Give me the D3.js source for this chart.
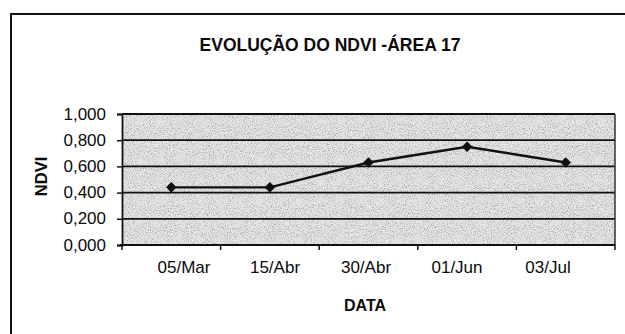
<!DOCTYPE html>
<html>
<head>
<meta charset="utf-8">
<script src="https://cdn.jsdelivr.net/npm/d3@7"></script>
<style>
  html, body { margin: 0; padding: 0; background: #fff; }
  svg { display: block; }
  text { font-family: "Liberation Sans", Arial, sans-serif; fill: #0a0a0a; }
</style>
</head>
<body>
<svg id="chart" width="625" height="334"></svg>
<script>
// NDVI readings per survey date
const dates = ["05/Mar", "15/Abr", "30/Abr", "01/Jun", "03/Jul"];
const ndvi = [0.44, 0.44, 0.63, 0.75, 0.63];
const yTicks = [0, 0.2, 0.4, 0.6, 0.8, 1.0];
const titleText = "EVOLUÇÃO DO NDVI -ÁREA 17";
const xTitle = "DATA";
const yTitle = "NDVI";

const svg = d3.select("#chart");
const W = 625, H = 334;
const plot = { left: 122, right: 615, top: 114, bottom: 245 };

// Chart frame (only top and left edges fall inside the view)
svg.append("path")
  .attr("d", `M11,${H + 5} V14 H${W + 5}`)
  .attr("fill", "none").attr("stroke", "#111").attr("stroke-width", 2);

// Title
svg.append("text")
  .attr("x", 330).attr("y", 51)
  .attr("text-anchor", "middle")
  .attr("font-size", 17.5).attr("font-weight", "bold")
  .text(titleText);

const x = d3.scaleBand().domain(dates).range([plot.left, plot.right]);
const y = d3.scaleLinear().domain([0, 1]).range([plot.bottom, plot.top]);
// Category labels sit slightly inward from the band centres
const xLabel = d3.scalePoint().domain(dates).range([plot.left + 62, plot.right - 67]);

// Stippled plot-area fill
const defs = svg.append("defs");
const f = defs.append("filter").attr("id", "stipple")
  .attr("x", 0).attr("y", 0).attr("width", "100%").attr("height", "100%");
f.append("feTurbulence").attr("type", "fractalNoise")
  .attr("baseFrequency", 0.95).attr("numOctaves", 2).attr("seed", 7);
f.append("feColorMatrix").attr("type", "matrix")
  .attr("values", "0 0 0 0 0.35  0 0 0 0 0.35  0 0 0 0 0.35  2.6 0 0 0 -1.2");

svg.append("rect")
  .attr("x", plot.left).attr("y", plot.top)
  .attr("width", plot.right - plot.left).attr("height", plot.bottom - plot.top)
  .attr("fill", "#e6e6e6");
svg.append("rect")
  .attr("x", plot.left).attr("y", plot.top)
  .attr("width", plot.right - plot.left).attr("height", plot.bottom - plot.top)
  .attr("fill", "#fff").attr("filter", "url(#stipple)");

// Horizontal gridlines
svg.append("g").selectAll("line")
  .data(yTicks.filter(d => d > 0))
  .join("line")
  .attr("x1", plot.left).attr("x2", plot.right)
  .attr("y1", d => y(d)).attr("y2", d => y(d))
  .attr("stroke", "#111").attr("stroke-width", 1.8);

// Right edge of plot area
svg.append("line")
  .attr("x1", plot.right).attr("x2", plot.right)
  .attr("y1", plot.top).attr("y2", plot.bottom)
  .attr("stroke", "#333").attr("stroke-width", 1.5);

// Y axis
const yAxis = d3.axisLeft(y).tickValues(yTicks).tickSize(5).tickPadding(11)
  .tickFormat(d => d3.format(".3f")(d).replace(".", ","));
const gy = svg.append("g").attr("transform", `translate(${plot.left},0)`).call(yAxis);
gy.select(".domain").attr("stroke", "#111").attr("stroke-width", 1.8);
gy.selectAll(".tick line").attr("stroke", "#111").attr("stroke-width", 1.5);
gy.selectAll(".tick text").attr("font-size", 17).attr("font-family", "Liberation Sans, Arial, sans-serif")
  .attr("fill", "#0a0a0a").attr("dy", "0.3em");

// X axis: ticks sit on category boundaries
const gx = svg.append("g").attr("transform", `translate(0,${plot.bottom})`);
gx.append("line").attr("x1", plot.left - 2).attr("x2", plot.right)
  .attr("stroke", "#111").attr("stroke-width", 1.8);
const bounds = dates.map(d => x(d)).concat([x(dates[dates.length - 1]) + x.bandwidth()]);
gx.selectAll(".tk").data(bounds).join("line").attr("class", "tk")
  .attr("x1", d => d).attr("x2", d => d).attr("y1", 0).attr("y2", 5)
  .attr("stroke", "#111").attr("stroke-width", 1.5);
gx.selectAll(".lbl").data(dates).join("text").attr("class", "lbl")
  .attr("x", d => xLabel(d))
  .attr("y", 28)
  .attr("text-anchor", "middle").attr("font-size", 17)
  .text(d => d);

// Axis titles
svg.append("text")
  .attr("x", 365).attr("y", 311)
  .attr("text-anchor", "middle").attr("font-size", 16).attr("font-weight", "bold")
  .text(xTitle);
svg.append("text")
  .attr("transform", `translate(47,${(plot.top + plot.bottom) / 2 - 3}) rotate(-90)`)
  .attr("text-anchor", "middle").attr("font-size", 16.5).attr("font-weight", "bold")
  .text(yTitle);

// Series line and diamond markers
const line = d3.line().x((d, i) => x(dates[i]) + x.bandwidth() / 2).y(d => y(d));
svg.append("path").datum(ndvi)
  .attr("d", line).attr("fill", "none")
  .attr("stroke", "#111").attr("stroke-width", 2.4);
svg.append("g").selectAll("path")
  .data(ndvi).join("path")
  .attr("transform", (d, i) => `translate(${x(dates[i]) + x.bandwidth() / 2},${y(d)}) rotate(45)`)
  .attr("d", d3.symbol(d3.symbolSquare, 56))
  .attr("fill", "#111");
</script>
</body>
</html>
